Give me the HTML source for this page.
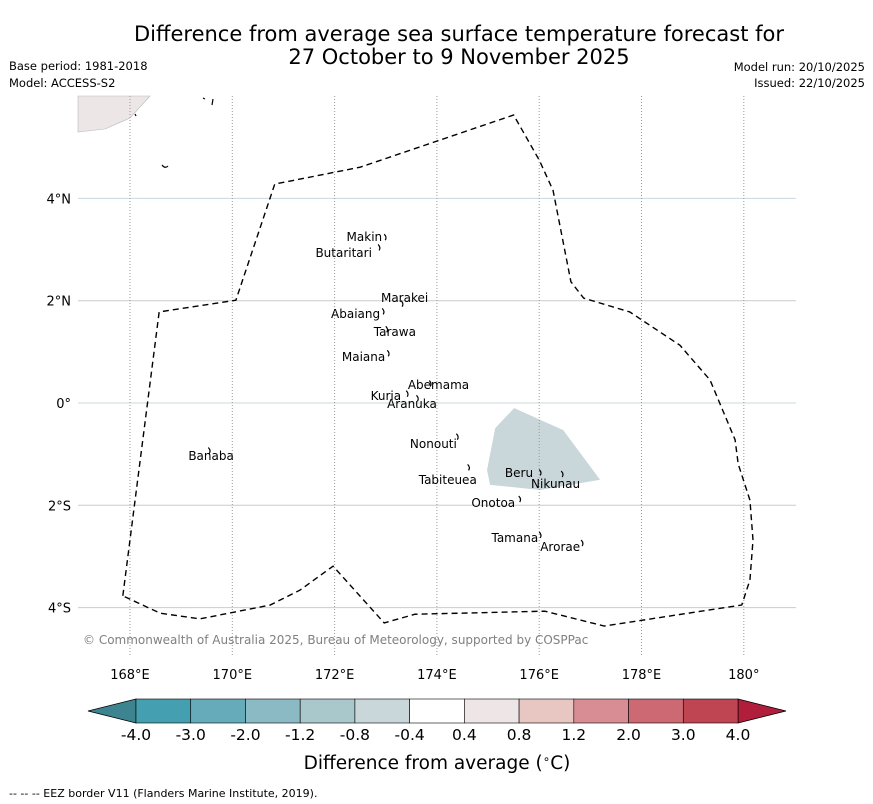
<!DOCTYPE html>
<html><head><meta charset="utf-8"><style>
html,body{margin:0;padding:0;background:#fff;}
svg{display:block;font-family:"DejaVu Sans","Liberation Sans",sans-serif;}
</style></head><body>
<svg id="chart" width="873" height="804" viewBox="0 0 873 804" xmlns="http://www.w3.org/2000/svg">
<text x="459" y="41" font-size="21" text-anchor="middle">Difference from average sea surface temperature forecast for</text>
<text x="459" y="64" font-size="21" text-anchor="middle">27 October to 9 November 2025</text>
<text x="9" y="70" font-size="11.5">Base period: 1981-2018</text>
<text x="9" y="87" font-size="11.5">Model: ACCESS-S2</text>
<text x="865" y="71" font-size="11.5" text-anchor="end">Model run: 20/10/2025</text>
<text x="865" y="87" font-size="11.5" text-anchor="end">Issued: 22/10/2025</text>
<g id="map"></g>
<g id="cbar"></g>
<text x="437" y="769" font-size="18.5" text-anchor="middle">Difference from average (<tspan font-size="12" dy="-6">∘</tspan><tspan dy="6">C)</tspan></text>
<text x="9" y="797" font-size="11">--  --  -- EEZ border V11 (Flanders Marine Institute, 2019).</text>
</svg>
<script>
const lonTicks=[168,170,172,174,176,178,180];
const lonLabels=["168°E","170°E","172°E","174°E","176°E","178°E","180°"];
const latTicks=[4,2,0,-2,-4];
const latLabels=["4°N","2°N","0°","2°S","4°S"];
const eezLon=[167.86,168.57,170.07,170.83,172.5,175.5,176.0,176.27,176.62,176.87,177.77,178.75,179.34,179.83,179.89,180.12,180.18,180.12,179.96,177.27,176.11,173.57,172.97,171.97,171.32,170.74,169.37,168.59,167.86];
const eezLat=[-3.77,1.78,2.01,4.28,4.61,5.63,4.75,4.16,2.37,2.05,1.78,1.13,0.45,-0.72,-1.19,-1.9,-2.68,-3.46,-3.95,-4.36,-4.07,-4.13,-4.3,-3.19,-3.66,-3.95,-4.22,-4.11,-3.77];
const patchLon=[175.14,175.51,176.47,177.19,176.02,175.04,174.98];
const patchLat=[-0.49,-0.1,-0.53,-1.5,-1.7,-1.6,-1.31];
const islandNames=["Makin","Butaritari","Marakei","Abaiang","Tarawa","Maiana","Abemama","Kuria","Aranuka","Nonouti","Banaba","Tabiteuea","Beru","Nikunau","Onotoa","Tamana","Arorae"];
const islandLon=[172.93,172.73,173.83,172.89,173.59,172.99,174.63,173.30,174.0,174.39,170.03,174.78,175.88,176.80,175.53,175.98,176.8];
const islandLat=[3.17,2.85,1.97,1.66,1.31,0.82,0.27,0.06,-0.10,-0.88,-1.11,-1.58,-1.45,-1.66,-2.03,-2.72,-2.89];
const atollLon=[172.97,172.85,173.3,172.93,173.0,173.03,173.85,173.4,173.6,174.38,169.53,174.6,176.0,176.43,175.6,176.0,176.82];
const atollLat=[3.3,3.1,2.0,1.85,1.5,1.03,0.44,0.24,0.15,-0.6,-0.87,-1.2,-1.3,-1.33,-1.82,-2.52,-2.68];
const cbBounds=["-4.0","-3.0","-2.0","-1.2","-0.8","-0.4","0.4","0.8","1.2","2.0","3.0","4.0"];
const cbColors=["#44a0b0","#66abba","#8bbac4","#a9c8cc","#c9d6da","#ffffff","#eee6e6","#e8c6c2","#d88d95","#cc6973","#c04552"];
const ns="http://www.w3.org/2000/svg";
const X=lon=>130+(lon-168)*51.15;
const Y=lat=>403-lat*51.15;
function mk(tag,attrs,parent){const e=document.createElementNS(ns,tag);for(const k in attrs)e.setAttribute(k,attrs[k]);parent.appendChild(e);return e;}
const map=document.getElementById('map');
let land=mk('path',{d:'M78,96 L150,96 L130,118 L105,129 L78,132 Z',fill:'#ece6e6',stroke:'#bbb','stroke-width':'0.6'},map);


let bits=mk('path',{d:'M135,114 l1,2 M203,98 l2,1 M213,99 l-1,6 M162,165 q3,4 6,1',fill:'none',stroke:'#000','stroke-width':1.2},map);


let pp=patchLon.map((l,i)=>X(l)+','+Y(patchLat[i])).join(' ');
let patch=mk('polygon',{points:pp,fill:'#c9d6da'},map);


latTicks.forEach((t,i)=>{
 let l=mk('line',{x1:78,x2:796,y1:Y(t),y2:Y(t),stroke:(t==4||t==0)?'#c8dadc':'#cccccc','stroke-width':1},map);
 
 
 let tx=mk('text',{x:71,y:Y(t)+5,'font-size':13,'text-anchor':'end'},map);tx.textContent=latLabels[i];
 
 
});
lonTicks.forEach((t,i)=>{
 let l=mk('line',{x1:X(t),x2:X(t),y1:96,y2:655,stroke:'#999','stroke-width':1,'stroke-dasharray':'1,2'},map);
 
 
 let tx=mk('text',{x:X(t),y:679,'font-size':13,'text-anchor':'middle'},map);tx.textContent=lonLabels[i];
 
 
});
let ep=eezLon.map((l,i)=>X(l)+','+Y(eezLat[i])).join(' ');
let eez=mk('polyline',{points:ep,fill:'none',stroke:'#000','stroke-width':1.4,'stroke-dasharray':'6,4'},map);


islandNames.forEach((n,i)=>{
 let m=mk('path',{d:`M${X(atollLon[i])},${Y(atollLat[i])} q3,3 1,6`,fill:'none',stroke:'#000','stroke-width':1.2},map);
 
 
 let tx=mk('text',{x:X(islandLon[i]),y:Y(islandLat[i]),'font-size':12,'text-anchor':'end'},map);tx.textContent=n;
 
 
});
let cp=mk('text',{x:83,y:644,'font-size':12,fill:'#808080'},map);cp.textContent='© Commonwealth of Australia 2025, Bureau of Meteorology, supported by COSPPac';


const cb=document.getElementById('cbar');
const x0=136,x1=738,n=cbColors.length,w=(x1-x0)/n,y0=699,h=24;
let lt=mk('polygon',{points:`${x0},${y0} ${x0},${y0+h} 88,${y0+h/2}`,fill:'#3c8590',stroke:'#000','stroke-width':0.8},cb);


let rt=mk('polygon',{points:`${x1},${y0} ${x1},${y0+h} 786,${y0+h/2}`,fill:'#b01e3c',stroke:'#000','stroke-width':0.8},cb);


cbColors.forEach((c,i)=>{
 let r=mk('rect',{x:x0+i*w,y:y0,width:w,height:h,fill:c,stroke:'#000','stroke-width':0.6},cb);
 
 
});
cbBounds.forEach((b,i)=>{
 let tx=mk('text',{x:x0+i*w,y:740,'font-size':15.5,'text-anchor':'middle'},cb);tx.textContent=b;
 
 
});
</script>
</body></html>
